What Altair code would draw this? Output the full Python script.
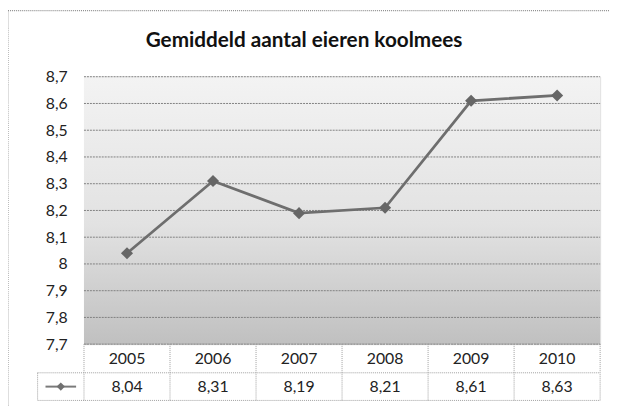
import altair as alt
import pandas as pd

years = ["2005", "2006", "2007", "2008", "2009", "2010"]
values = [8.04, 8.31, 8.19, 8.21, 8.61, 8.63]
value_labels = ["8,04", "8,31", "8,19", "8,21", "8,61", "8,63"]
y_ticks = [7.7, 7.8, 7.9, 8.0, 8.1, 8.2, 8.3, 8.4, 8.5, 8.6, 8.7]
title_text = "Gemiddeld aantal eieren koolmees"

df = pd.DataFrame({"year": years, "value": values, "label": value_labels})
one = pd.DataFrame({"k": [0]})

W, H = 523, 271
FONT = "Lato"

xscale = alt.Scale(type="band", domain=years, paddingInner=0, paddingOuter=0)
yscale = alt.Scale(domain=[7.7, 8.7], nice=False, zero=False)
yaxis = alt.Axis(values=y_ticks, ticks=False, domain=False, grid=False,
                 labelOverlap=False,
                 labelExpr="replace(format(datum.value, '.1~f'), '.', ',')",
                 labelFont=FONT, labelFontSize=16, labelColor="#222",
                 labelPadding=17, title=None)

base = alt.Chart(df)

bg = alt.Chart(one).mark_rect(
    color=alt.Gradient(
        gradient="linear",
        stops=[alt.GradientStop(color="#f3f3f3", offset=0),
               alt.GradientStop(color="#e2e2e2", offset=0.55),
               alt.GradientStop(color="#c0c0c0", offset=1)],
        x1=0, x2=0, y1=0, y2=1)
).encode(x=alt.value(0), x2=alt.value(W), y=alt.value(0), y2=alt.value(H))

grid = alt.Chart(pd.DataFrame({"t": y_ticks})).mark_rule(
    color="#808080", strokeWidth=1, strokeDash=[2, 1]
).encode(
    y=alt.Y("t:Q", scale=yscale, axis=yaxis),
    x=alt.value(0), x2=alt.value(W)
)

line = base.mark_line(color="#6e6e6e", strokeWidth=2.8).encode(
    x=alt.X("year:N", scale=xscale, axis=None, bandPosition=0.5),
    y=alt.Y("value:Q", scale=yscale, axis=yaxis)
)
pts = base.mark_point(shape="diamond", filled=True, size=150, color="#666666", opacity=1).encode(
    x=alt.X("year:N", scale=xscale, axis=None, bandPosition=0.5),
    y=alt.Y("value:Q", scale=yscale, axis=yaxis)
)

tstyle = dict(color="#a0a0a0", strokeWidth=1, strokeDash=[1, 1])

vlines = base.mark_rule(**tstyle).encode(
    x=alt.X("year:N", scale=xscale, axis=None, bandPosition=0),
    y=alt.value(H), y2=alt.value(H + 57)
)
edges = alt.Chart(pd.DataFrame({"x": [W, -47], "y1": [H, H + 29], "y2": [H + 57, H + 57]})).mark_rule(**tstyle).encode(
    x=alt.X("x:Q", scale=None), y=alt.Y("y1:Q", scale=None), y2="y2:Q"
)
hlines = alt.Chart(pd.DataFrame({"x1": [0, -47, -47], "x2": [W, W, W], "y": [H, H + 29, H + 57]})).mark_rule(**tstyle).encode(
    x=alt.X("x1:Q", scale=None), x2="x2:Q", y=alt.Y("y:Q", scale=None)
)

year_txt = base.mark_text(font=FONT, fontSize=16, color="#222").encode(
    x=alt.X("year:N", scale=xscale, axis=None, bandPosition=0.5),
    y=alt.value(H + 15), text="year:N"
)
val_txt = base.mark_text(font=FONT, fontSize=16, color="#222").encode(
    x=alt.X("year:N", scale=xscale, axis=None, bandPosition=0.5),
    y=alt.value(H + 43), text="label:N"
)

leg_line = alt.Chart(one).mark_rule(color="#7a7a7a", strokeWidth=2).encode(
    x=alt.value(-39), x2=alt.value(-8), y=alt.value(H + 43)
)
leg_pt = alt.Chart(one).mark_point(shape="diamond", filled=True, size=70, color="#707070", opacity=1).encode(
    x=alt.value(-23.5), y=alt.value(H + 43)
)

border = alt.Chart(pd.DataFrame({"x1": [-77, -77], "x2": [-77, 540], "y1": [-67, -67], "y2": [400, -67]})).mark_rule(
    color="#909090", strokeWidth=1.2, strokeDash=[1, 1]
).encode(x=alt.X("x1:Q", scale=None), x2="x2:Q", y=alt.Y("y1:Q", scale=None), y2="y2:Q")

title = alt.Chart(one).mark_text(font=FONT, fontSize=21, fontWeight="bold", color="#111").encode(
    x=alt.value(223), y=alt.value(-36), text=alt.value(title_text)
)

chart = alt.layer(bg, grid, line, pts, vlines, edges, hlines, year_txt, val_txt,
                  leg_line, leg_pt, border, title).properties(
    width=W, height=H,
    autosize=alt.AutoSizeParams(type="none"),
    padding={"left": 77, "top": 67, "right": 10, "bottom": 60}
).configure_view(stroke=None).configure_axis(labelOverlap=False).configure(background="white")

chart.save("out.html", embed_options={"renderer": "svg", "actions": False})
